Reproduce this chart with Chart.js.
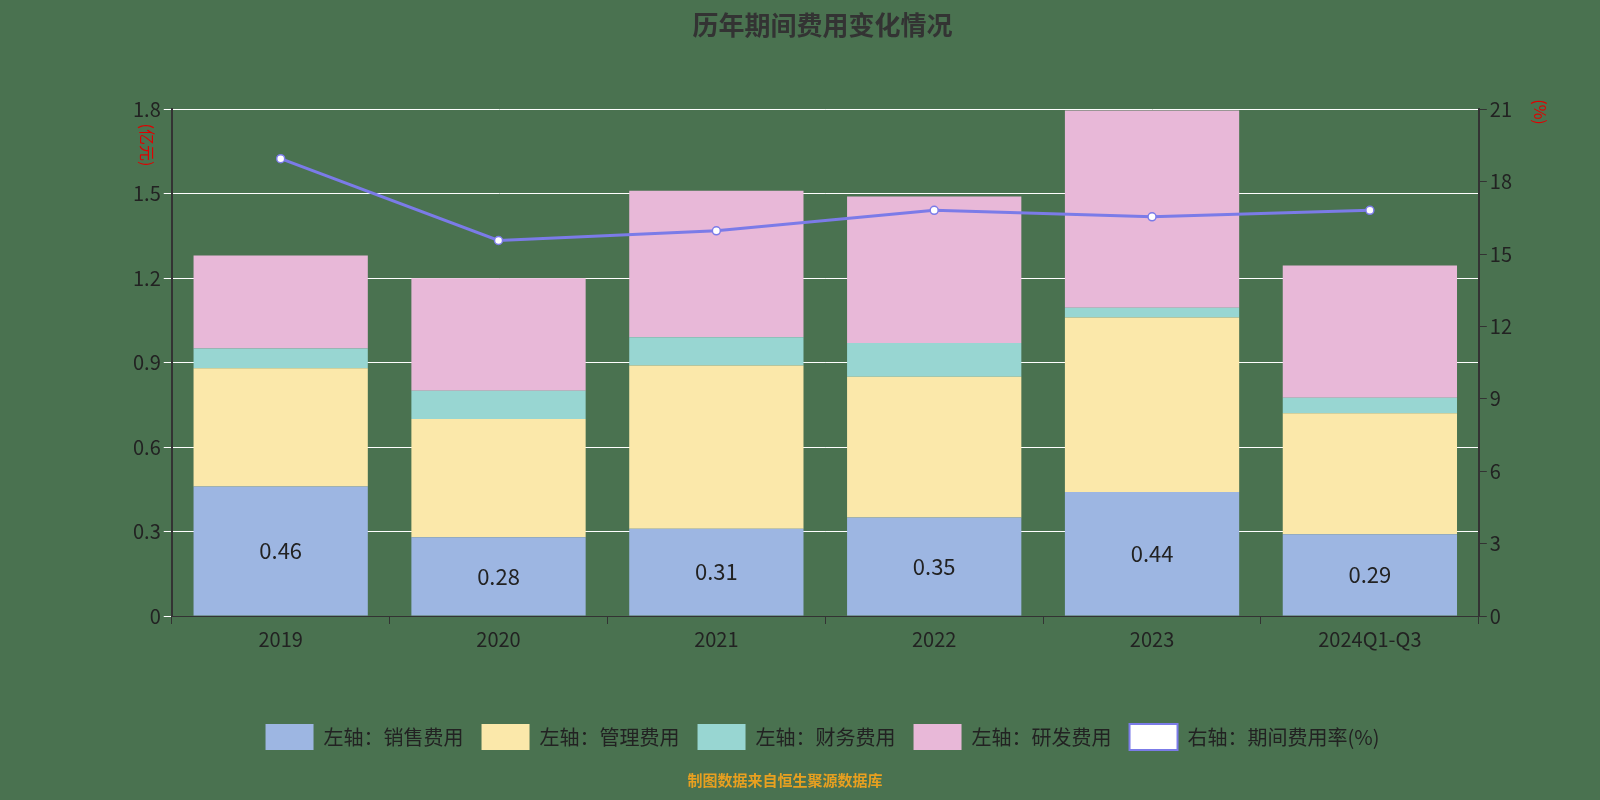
<!DOCTYPE html>
<html><head><meta charset="utf-8">
<script src="https://cdn.jsdelivr.net/npm/chart.js@4/dist/chart.umd.min.js"></script>
<style>html,body{margin:0;background:#4a7250;overflow:hidden;}canvas{display:block;}</style>
</head><body><canvas id="c" width="1600" height="800" style="width:1600px;height:800px"></canvas>
<script>
const categories=['2019','2020','2021','2022','2023','2024Q1-Q3'];
const sales=[0.46,0.28,0.31,0.35,0.44,0.29];
const mgmt=[0.42,0.42,0.58,0.50,0.62,0.43];
const fin=[0.07,0.10,0.10,0.12,0.035,0.055];
const rd=[0.33,0.40,0.52,0.52,0.70,0.47];
const rate=[18.95,15.56,15.96,16.81,16.54,16.81];
const leftTicks=[0,0.3,0.6,0.9,1.2,1.5,1.8];
const F='"Noto Sans CJK SC","Noto Sans",sans-serif';
const deco={id:'deco',afterDraw(ch){const c=ch.ctx;c.save();
c.fillStyle='#e00000';c.font='16px '+F;
c.translate(147,145);c.rotate(Math.PI/2);c.textAlign='center';c.textBaseline='middle';c.fillText('(亿元)',0,0);c.restore();
c.save();c.fillStyle='#e00000';c.font='16px '+F;c.translate(1540,112);c.rotate(Math.PI/2);c.textAlign='center';c.textBaseline='middle';c.fillText('(%)',0,0);c.restore();
c.save();c.fillStyle='#e8a020';c.font='bold 15px '+F;c.textAlign='center';c.fillText('制图数据来自恒生聚源数据库',785,780);
const m=ch.getDatasetMeta(0);c.fillStyle='#222';c.font='22px '+F;c.textBaseline='middle';
m.data.forEach((b,i)=>{c.fillText(sales[i].toFixed(2),b.x,(b.y+b.base)/2);});
c.restore();}};
const bar=(l,d,col)=>({type:'bar',label:l,data:d,backgroundColor:col,yAxisID:'y',stack:'s',barPercentage:0.8,categoryPercentage:1,order:2});
new Chart(document.getElementById('c'),{data:{labels:categories,datasets:[
bar('左轴：销售费用',sales,'#9db6e2'),bar('左轴：管理费用',mgmt,'#fbe8aa'),bar('左轴：财务费用',fin,'#98d6d2'),bar('左轴：研发费用',rd,'#e8b8d8'),
{type:'line',label:'右轴：期间费用率(%)',data:rate,yAxisID:'y1',borderColor:'#7b7be8',backgroundColor:'#fff',borderWidth:3,pointRadius:4,pointBorderColor:'#7b7be8',pointBorderWidth:1.5,order:1}]},
options:{responsive:false,animation:false,devicePixelRatio:1,
layout:{padding:{left:130,right:85,top:10,bottom:40}},
plugins:{title:{display:true,text:'历年期间费用变化情况',color:'#333',font:{family:F,size:26,weight:'bold'},padding:{top:0,bottom:68}},
legend:{position:'bottom',labels:{color:'#222',font:{family:F,size:20},boxWidth:48,boxHeight:26,padding:18,
generateLabels(ch){return ch.data.datasets.map((d,i)=>({text:d.label,fillStyle:i<4?d.backgroundColor:'#fff',strokeStyle:i<4?d.backgroundColor:'#7b7be8',lineWidth:i<4?0:2,datasetIndex:i,fontColor:'#222'}));}}},tooltip:{enabled:false}},
scales:{x:{grid:{display:true,drawOnChartArea:false,color:'#333',tickLength:8,offset:true},border:{color:'#333'},ticks:{color:'#222',font:{family:F,size:20},maxRotation:0},afterFit(a){a.height=90;}},
y:{position:'left',min:0,max:1.8,afterBuildTicks(a){a.ticks=leftTicks.map(v=>({value:v}));},grid:{color:'#ffffff',drawTicks:true,tickLength:8},border:{color:'#333',width:2},
ticks:{color:'#222',font:{family:F,size:20},callback:v=>v===0?'0':Number(v).toFixed(1)}},
y1:{position:'right',min:0,max:21,ticks:{stepSize:3,color:'#222',font:{family:F,size:20}},grid:{drawOnChartArea:false,color:'#333',tickLength:8},border:{color:'#333',width:2}}}},
plugins:[deco]});
</script></body></html>
